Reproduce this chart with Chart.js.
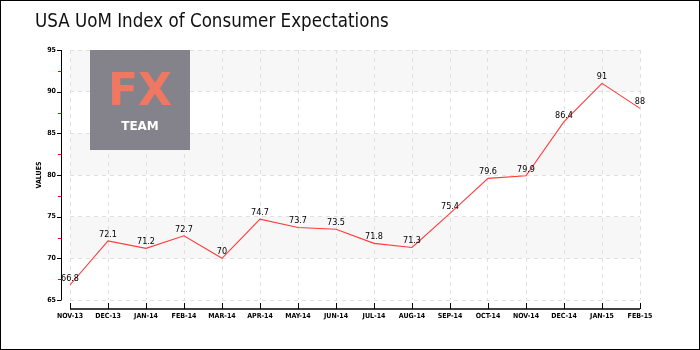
<!DOCTYPE html>
<html>
<head>
<meta charset="utf-8">
<script src="https://cdn.jsdelivr.net/npm/chart.js@4"></script>
<style>
  html, body { margin: 0; padding: 0; background: #fff; }
  #wrap { width: 700px; height: 350px; }
</style>
</head>
<body>
<div id="wrap"><canvas id="chartCanvas" width="700" height="350"></canvas></div>
<script>
// dữ liệu
const months = ["NOV-13", "DEC-13", "JAN-14", "FEB-14", "MAR-14", "APR-14", "MAY-14", "JUN-14",
                "JUL-14", "AUG-14", "SEP-14", "OCT-14", "NOV-14", "DEC-14", "JAN-15", "FEB-15"];
const values = [66.8, 72.1, 71.2, 72.7, 70, 74.7, 73.7, 73.5, 71.8, 71.3, 75.4, 79.6, 79.9, 86.4, 91, 88];
const yMin = 65, yMax = 95, yStep = 5;

const tickFont = "'DejaVu Sans Condensed', 'DejaVu Sans', sans-serif";

// nền sọc xám
const backdrop = {
  id: "backdrop",
  beforeDraw(chart) {
    const { ctx, chartArea: a, scales: { y } } = chart;
    ctx.save();
    ctx.fillStyle = "#f7f7f7";
    for (let v = yMax; v > yMin; v -= 2 * yStep) {
      const top = y.getPixelForValue(v), bot = y.getPixelForValue(v - yStep);
      ctx.fillRect(a.left, top, a.right - a.left, bot - top);
    }
    ctx.restore();
  },
  // logo FX TEAM (hơi trong suốt, lưới lộ ra mờ)
  beforeDatasetsDraw(chart) {
    const { ctx, chartArea: a } = chart;
    const lx = a.left + 20, ly = a.top;
    ctx.save();
    ctx.globalAlpha = 0.93;
    ctx.fillStyle = "#7b7a82";
    ctx.fillRect(lx, ly, 100, 100);
    ctx.globalAlpha = 1;
    ctx.fillStyle = "#f07862";
    ctx.font = "bold 44px 'DejaVu Sans', sans-serif";
    ctx.textAlign = "center";
    ctx.textBaseline = "middle";
    ctx.fillText("FX", lx + 50, ly + 44);
    ctx.fillStyle = "#ffffff";
    ctx.font = "bold 12px 'DejaVu Sans', sans-serif";
    ctx.fillText("TEAM", lx + 50, ly + 77);
    ctx.restore();
  }
};

// trục lệch ra ngoài, vạch nhỏ đỏ, nhãn giá trị, khung viền
const decor = {
  id: "decor",
  afterDatasetsDraw(chart) {
    const { ctx, chartArea: a, scales: { x, y } } = chart;
    ctx.save();
    // trục y
    const ax = a.left - 9;
    ctx.strokeStyle = "#000";
    ctx.lineWidth = 1;
    ctx.beginPath();
    ctx.moveTo(ax + 0.5, y.getPixelForValue(yMax));
    ctx.lineTo(ax + 0.5, y.getPixelForValue(yMin));
    for (let v = yMin; v <= yMax; v += yStep) {
      const py = Math.round(y.getPixelForValue(v)) + 0.5;
      ctx.moveTo(ax - 4, py);
      ctx.lineTo(ax + 0.5, py);
    }
    ctx.stroke();
    ctx.strokeStyle = "#e00";
    ctx.beginPath();
    for (let v = yMin + yStep / 2; v < yMax; v += yStep) {
      const py = Math.round(y.getPixelForValue(v)) + 0.5;
      ctx.moveTo(ax - 3, py);
      ctx.lineTo(ax + 0.5, py);
    }
    ctx.stroke();
    // trục x
    const ay = a.bottom + 9;
    ctx.strokeStyle = "#000";
    ctx.lineWidth = 1.5;
    ctx.beginPath();
    ctx.moveTo(a.left, ay);
    ctx.lineTo(a.right, ay);
    ctx.stroke();
    ctx.lineWidth = 1;
    ctx.beginPath();
    months.forEach((m, i) => {
      const px = Math.round(x.getPixelForValue(i)) + 0.5;
      ctx.moveTo(px, ay);
      ctx.lineTo(px, ay - 6);
    });
    ctx.stroke();
    // nhãn giá trị
    const meta = chart.getDatasetMeta(0);
    ctx.fillStyle = "#000";
    ctx.font = "9px " + tickFont;
    ctx.textAlign = "center";
    ctx.textBaseline = "bottom";
    meta.data.forEach((pt, i) => {
      ctx.fillText(String(values[i]), pt.x, pt.y - 2);
    });
    // khung
    ctx.strokeStyle = "#000";
    ctx.lineWidth = 1;
    ctx.strokeRect(0.5, 0.5, chart.width - 1, chart.height - 1);
    ctx.restore();
  }
};

const ctx = document.getElementById("chartCanvas").getContext("2d");
const chart = new Chart(ctx, {
  type: "line",
  data: {
    labels: months,
    datasets: [{
      data: values,
      borderColor: "#ff3a3a",
      borderWidth: 1.1,
      pointRadius: 0,
      tension: 0,
      fill: false
    }]
  },
  options: {
    responsive: false,
    animation: false,
    layout: { padding: { left: 35, right: 60, top: 0, bottom: 0 } },
    plugins: {
      legend: { display: false },
      tooltip: { enabled: false },
      title: {
        display: true,
        text: "USA UoM Index of Consumer Expectations",
        align: "start",
        color: "#111",
        font: { family: "'DejaVu Sans Condensed', sans-serif", size: 18.6, weight: "normal" },
        padding: { top: 11.5, bottom: 16.2 }
      }
    },
    scales: {
      x: {
        offset: false,
        border: { display: false, dash: [4, 4] },
        grid: { color: "#e0e0e0", drawTicks: false },
        ticks: { color: "#000", font: { family: tickFont, size: 7, weight: "bold" }, padding: 12, maxRotation: 0, autoSkip: false },
        afterFit(s) { s.height = 50; }
      },
      y: {
        min: yMin,
        max: yMax,
        border: { display: false, dash: [4, 4] },
        grid: { color: "#e0e0e0", drawTicks: false },
        ticks: { stepSize: yStep, color: "#000", font: { family: tickFont, size: 7, weight: "bold" }, padding: 14 },
        title: { display: true, text: "VALUES", color: "#000", font: { family: tickFont, size: 7, weight: "bold" }, padding: { top: 0, bottom: 0 } },
        afterFit(s) { s.width = 35; }
      }
    }
  },
  plugins: [backdrop, decor]
});
</script>
</body>
</html>
